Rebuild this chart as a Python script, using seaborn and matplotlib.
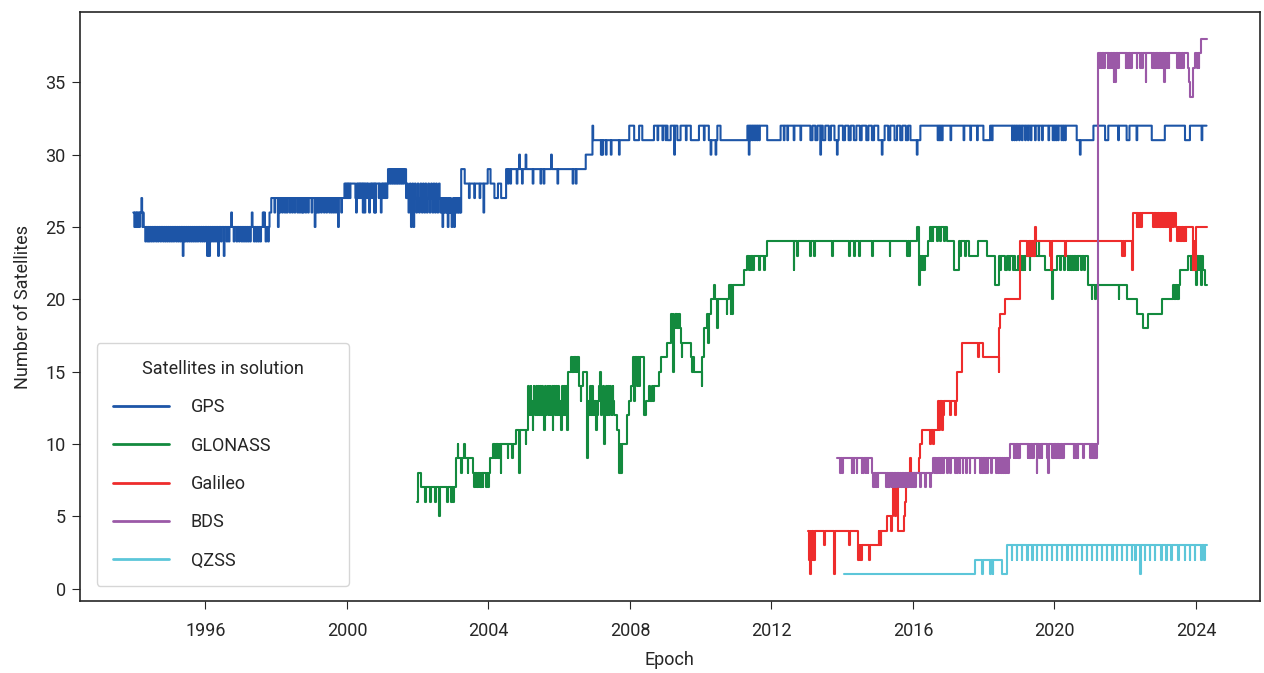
import datetime as dt
import numpy as np
import pandas as pd
import matplotlib
matplotlib.use('Agg')
import matplotlib.pyplot as plt
import matplotlib.dates as mdates
import seaborn as sns

# step change points (decimal year, satellites) and short excursions
END = 2024.30

gps_steps = [(1993.96, 26), (1994.25, 25), (1997.81, 26), (1997.86, 27), (1999.93, 28),
             (2001.16, 29), (2001.67, 27), (2002.78, 26), (2003.23, 29), (2003.33, 28),
             (2003.98, 29), (2004.06, 28), (2004.17, 27), (2004.27, 28), (2004.36, 27),
             (2004.50, 29), (2006.75, 30), (2006.94, 31), (2007.98, 32), (2008.12, 31),
             (2008.26, 32), (2008.35, 31), (2008.68, 32), (2009.06, 31), (2009.15, 32),
             (2009.34, 31), (2009.43, 32), (2009.72, 31), (2009.95, 32), (2010.23, 31),
             (2010.47, 32), (2010.56, 31), (2011.32, 32), (2011.88, 31), (2012.26, 32),
             (2013.10, 31), (2013.16, 32), (2013.24, 31), (2013.30, 32), (2013.45, 31),
             (2013.52, 32), (2013.62, 31), (2013.68, 32), (2013.78, 31), (2013.90, 32),
             (2014.02, 31), (2014.08, 32), (2014.18, 31), (2014.24, 32), (2014.33, 31),
             (2014.40, 32), (2014.50, 31), (2014.55, 32), (2014.68, 31), (2014.74, 32),
             (2014.84, 31), (2014.90, 32), (2015.02, 31), (2015.20, 32), (2015.30, 31),
             (2015.36, 32), (2015.48, 31), (2015.55, 32), (2015.64, 31), (2015.70, 32),
             (2015.80, 31), (2015.86, 32), (2015.93, 31), (2016.21, 32), (2017.99, 31),
             (2018.18, 32), (2020.63, 31), (2021.10, 32), (2021.43, 31), (2021.52, 32),
             (2022.04, 31), (2022.12, 32), (2022.75, 31), (2023.12, 32), (2023.69, 31),
             (2023.83, 32)]
gps_dips = [(1993.99, 25), (1994.04, 25), (1994.08, 25), (1994.13, 25), (1994.19, 27), (1994.22, 25),
            (1994.30, 24), (1994.36, 24), (1994.41, 24), (1994.47, 24), (1994.53, 24), (1994.60, 24),
            (1994.66, 24), (1994.73, 24), (1994.80, 24), (1994.86, 24), (1994.92, 24), (1994.98, 24),
            (1995.04, 24), (1995.10, 24), (1995.17, 24), (1995.23, 24), (1995.29, 24), (1995.36, 23),
            (1995.42, 24), (1995.48, 24), (1995.54, 24), (1995.60, 24), (1995.66, 24), (1995.72, 24),
            (1995.78, 24), (1995.85, 24), (1995.91, 24), (1995.97, 24), (1996.05, 23), (1996.11, 23),
            (1996.17, 24), (1996.23, 24), (1996.29, 24), (1996.36, 23), (1996.44, 24), (1996.52, 23),
            (1996.60, 24), (1996.66, 24), (1996.73, 26), (1996.80, 24), (1996.88, 24), (1996.95, 24),
            (1997.02, 24), (1997.08, 24), (1997.14, 24), (1997.20, 24), (1997.26, 24), (1997.31, 26),
            (1997.37, 24), (1997.43, 24), (1997.49, 24), (1997.55, 24), (1997.62, 26), (1997.66, 26),
            (1997.70, 24), (1997.77, 24),
            (1997.95, 26), (1998.05, 25), (1998.10, 26), (1998.17, 26), (1998.24, 26), (1998.30, 26),
            (1998.38, 26), (1998.45, 26), (1998.52, 26), (1998.60, 26), (1998.66, 26), (1998.72, 26),
            (1998.76, 26), (1998.83, 26), (1998.90, 26), (1999.00, 26), (1999.09, 25), (1999.15, 26),
            (1999.20, 26), (1999.27, 26), (1999.35, 26), (1999.42, 26), (1999.50, 26), (1999.56, 26),
            (1999.62, 26), (1999.68, 26), (1999.75, 25), (1999.84, 26),
            (1999.96, 27), (2000.00, 27), (2000.04, 27), (2000.08, 27), (2000.24, 27), (2000.26, 26),
            (2000.30, 27), (2000.34, 27), (2000.38, 27), (2000.42, 27), (2000.45, 26), (2000.50, 26),
            (2000.57, 27), (2000.61, 27), (2000.63, 26), (2000.69, 27), (2000.73, 27), (2000.77, 26),
            (2000.80, 26), (2000.90, 27), (2000.94, 27), (2000.96, 26), (2001.00, 27), (2001.04, 27),
            (2001.08, 27), (2001.12, 27),
            (2001.20, 28), (2001.25, 28), (2001.30, 28), (2001.35, 28), (2001.40, 28), (2001.45, 28),
            (2001.50, 28), (2001.55, 28), (2001.60, 28),
            (2001.70, 28), (2001.74, 26), (2001.78, 28), (2001.81, 25), (2001.85, 28), (2001.88, 25),
            (2001.92, 28), (2001.96, 26), (2002.00, 28), (2002.04, 26), (2002.08, 28), (2002.12, 26),
            (2002.15, 28), (2002.19, 26), (2002.22, 28), (2002.26, 26), (2002.30, 28), (2002.34, 26),
            (2002.38, 28), (2002.42, 26), (2002.45, 28), (2002.49, 26), (2002.52, 28), (2002.56, 26),
            (2002.60, 28), (2002.64, 26), (2002.70, 25), (2002.74, 26),
            (2002.82, 27), (2002.85, 25), (2002.88, 27), (2002.92, 27), (2002.96, 25), (2003.00, 27),
            (2003.03, 25), (2003.06, 27), (2003.10, 27), (2003.15, 27), (2003.20, 27),
            (2003.45, 27), (2003.60, 27), (2003.75, 27), (2003.86, 26),
            (2004.55, 28), (2004.62, 28), (2004.80, 28), (2004.87, 30), (2004.95, 28), (2005.05, 30),
            (2005.25, 28), (2005.47, 28), (2005.56, 28), (2005.77, 30), (2005.95, 28), (2006.38, 28),
            (2006.47, 28), (2006.94, 32), (2007.18, 30), (2007.22, 30), (2007.32, 30), (2007.46, 30),
            (2007.69, 30), (2008.78, 31), (2008.92, 31), (2009.01, 31), (2009.25, 30), (2009.58, 31),
            (2010.09, 31), (2010.28, 30), (2010.42, 30), (2011.36, 30), (2011.40, 31), (2011.45, 31),
            (2011.50, 31), (2011.55, 31), (2011.60, 31), (2011.65, 31), (2012.35, 31), (2012.45, 31),
            (2012.63, 31), (2012.82, 31), (2013.38, 30), (2013.85, 30), (2015.12, 30), (2016.11, 30),
            (2016.70, 31), (2016.74, 31), (2016.78, 31), (2016.82, 31), (2017.06, 31), (2017.43, 31),
            (2017.62, 31), (2017.81, 31), (2018.23, 31), (2018.80, 31), (2018.86, 31), (2018.92, 31),
            (2019.00, 31), (2019.08, 31), (2019.17, 31), (2019.25, 31), (2019.33, 31), (2019.45, 31),
            (2019.55, 31), (2019.65, 31), (2019.83, 31), (2019.95, 31), (2020.00, 31), (2020.05, 31),
            (2020.10, 31), (2020.20, 31), (2020.25, 31), (2020.30, 31), (2020.72, 30), (2021.80, 31),
            (2022.32, 31), (2024.16, 31)]

glonass_steps = [(2001.98, 6), (2002.00, 8), (2002.08, 7), (2003.08, 9), (2003.55, 8),
                 (2004.05, 9), (2004.12, 10), (2004.78, 11), (2005.11, 13), (2006.26, 15),
                 (2006.33, 16), (2006.57, 14), (2006.66, 15), (2006.80, 13), (2007.55, 12),
                 (2007.63, 11), (2007.69, 10), (2007.93, 12), (2007.97, 13), (2008.02, 14),
                 (2008.09, 16), (2008.40, 12), (2008.45, 13), (2008.68, 14), (2008.82, 15),
                 (2008.87, 16), (2009.06, 17), (2009.15, 18), (2009.44, 17), (2009.72, 16),
                 (2009.81, 15), (2010.05, 16), (2010.09, 18), (2010.19, 19), (2010.28, 20),
                 (2010.80, 21), (2011.22, 22), (2011.32, 23), (2011.88, 24), (2016.11, 25),
                 (2016.17, 21), (2016.21, 23), (2016.44, 24), (2016.58, 25), (2016.96, 24),
                 (2017.15, 22), (2017.29, 24), (2017.57, 23), (2017.85, 24), (2018.09, 23),
                 (2018.33, 21), (2018.42, 23), (2018.61, 22), (2018.66, 23), (2018.89, 22),
                 (2018.98, 23), (2019.74, 22), (2020.07, 23), (2020.96, 21), (2022.04, 20),
                 (2022.32, 19), (2022.51, 18), (2022.65, 19), (2023.03, 20), (2023.36, 21),
                 (2023.55, 22), (2023.78, 23), (2024.21, 22), (2024.26, 21)]
glonass_dips = [(2002.21, 6), (2002.36, 6), (2002.50, 6), (2002.61, 5), (2002.83, 6), (2002.94, 6),
                (2003.00, 6), (2003.13, 10), (2003.22, 8), (2003.32, 10), (2003.41, 8),
                (2003.60, 7), (2003.64, 7), (2003.68, 7), (2003.72, 7), (2003.76, 7), (2003.80, 7),
                (2003.84, 7), (2003.93, 7), (2004.00, 7), (2004.15, 9), (2004.19, 9), (2004.23, 9),
                (2004.27, 9), (2004.31, 9), (2004.35, 8), (2004.54, 9), (2004.68, 9), (2004.87, 8),
                (2005.05, 10),
                (2005.13, 14), (2005.16, 12), (2005.19, 14), (2005.22, 12), (2005.25, 11), (2005.28, 14),
                (2005.31, 12), (2005.34, 14), (2005.37, 12), (2005.40, 14), (2005.43, 12), (2005.46, 14),
                (2005.49, 12), (2005.52, 14), (2005.55, 12), (2005.58, 11), (2005.61, 14), (2005.64, 12),
                (2005.67, 14), (2005.70, 12), (2005.73, 14), (2005.76, 12), (2005.79, 14), (2005.81, 11),
                (2005.85, 14), (2005.88, 12), (2005.91, 14), (2005.94, 12), (2005.97, 14), (2006.00, 12),
                (2006.05, 11), (2006.08, 14), (2006.11, 12), (2006.14, 14), (2006.17, 12), (2006.20, 14),
                (2006.23, 11),
                (2006.36, 15), (2006.40, 15), (2006.44, 15), (2006.48, 15), (2006.52, 15), (2006.61, 13),
                (2006.78, 9), (2006.84, 12), (2006.87, 14), (2006.90, 12), (2006.93, 14), (2006.96, 12),
                (2007.00, 12), (2007.04, 11), (2007.08, 12), (2007.12, 14), (2007.15, 15), (2007.19, 12),
                (2007.24, 14), (2007.27, 10), (2007.30, 12), (2007.33, 14), (2007.36, 12), (2007.39, 14),
                (2007.42, 12), (2007.45, 14), (2007.48, 12), (2007.51, 14),
                (2007.70, 8), (2007.73, 8), (2007.76, 8), (2008.12, 13), (2008.20, 14), (2008.26, 14),
                (2008.55, 14), (2008.62, 14), (2009.17, 19), (2009.21, 19), (2009.23, 15), (2009.27, 19),
                (2009.31, 19), (2009.35, 19), (2009.39, 19), (2009.46, 16), (2009.75, 15), (2010.03, 14),
                (2010.21, 17), (2010.38, 21), (2010.47, 18), (2010.73, 19), (2010.85, 19), (2010.89, 19),
                (2011.36, 22), (2011.40, 22), (2011.44, 22), (2011.48, 22), (2011.65, 22), (2011.79, 22),
                (2012.63, 22), (2012.73, 23), (2013.10, 23), (2013.20, 23), (2013.72, 23), (2014.19, 23),
                (2014.33, 23), (2014.47, 23), (2014.84, 23), (2015.34, 23), (2015.83, 23), (2015.90, 23),
                (2016.24, 22), (2016.28, 22), (2016.32, 22), (2016.49, 25), (2016.55, 25), (2016.68, 24),
                (2016.77, 24), (2016.88, 24), (2017.34, 23), (2017.48, 23), (2018.47, 22), (2018.71, 22),
                (2018.83, 22), (2019.00, 22), (2019.04, 22), (2019.08, 22), (2019.12, 22), (2019.16, 22),
                (2019.30, 22), (2019.45, 24), (2019.55, 24), (2019.93, 20), (2020.16, 22), (2020.27, 22),
                (2020.37, 22), (2020.42, 22), (2020.47, 22), (2020.52, 22), (2020.57, 22), (2020.62, 22),
                (2020.66, 22), (2020.75, 22), (2020.85, 22), (2021.05, 20), (2021.15, 20), (2021.81, 20),
                (2023.38, 20), (2023.42, 20), (2023.46, 20), (2023.50, 20), (2023.85, 22), (2023.90, 22),
                (2023.95, 22), (2024.00, 21), (2024.05, 22), (2024.10, 22), (2024.15, 21)]

galileo_steps = [(2013.03, 4), (2014.44, 3), (2014.56, 3), (2015.03, 4), (2015.27, 5), (2015.44, 7),
                 (2015.48, 5), (2015.52, 7), (2015.57, 4), (2015.74, 5), (2015.78, 6), (2015.81, 7),
                 (2015.85, 8), (2016.16, 9), (2016.20, 10), (2016.26, 11), (2016.72, 13), (2017.24, 15),
                 (2017.38, 17), (2017.99, 16), (2018.46, 19), (2018.61, 20), (2019.03, 24),
                 (2022.23, 26), (2023.45, 25), (2023.92, 22), (2024.01, 25)]
galileo_dips = [(2013.06, 2), (2013.09, 1), (2013.13, 2), (2013.17, 2), (2013.21, 2), (2013.48, 3),
                (2013.77, 1), (2014.20, 3), (2014.46, 2), (2014.50, 2), (2014.53, 2), (2014.77, 2),
                (2015.05, 3), (2015.09, 3), (2015.38, 4), (2015.93, 9), (2016.49, 10), (2016.58, 10),
                (2016.74, 11), (2016.78, 12), (2016.82, 11), (2016.86, 12), (2017.05, 12), (2017.19, 12),
                (2017.85, 16), (2018.42, 15), (2018.44, 18), (2019.22, 23), (2019.26, 23), (2019.30, 23),
                (2019.34, 23), (2019.38, 23), (2019.42, 23), (2019.45, 25), (2019.88, 23), (2019.91, 22),
                (2020.30, 23), (2021.92, 23), (2021.97, 23), (2022.20, 22), (2022.32, 25), (2022.36, 25),
                (2022.40, 25), (2022.44, 25), (2022.79, 25), (2022.83, 25), (2022.87, 25), (2022.91, 25),
                (2022.95, 25), (2022.99, 25), (2023.03, 25), (2023.07, 25), (2023.12, 25), (2023.16, 25),
                (2023.20, 25), (2023.27, 24), (2023.31, 25), (2023.36, 25), (2023.47, 24), (2023.51, 24),
                (2023.55, 24), (2023.59, 24), (2023.63, 24), (2023.67, 24), (2023.71, 24), (2023.96, 24)]

bds_steps = [(2013.86, 9), (2014.84, 8), (2016.58, 9), (2018.75, 10), (2021.24, 37),
             (2023.78, 36), (2023.81, 35), (2023.83, 34), (2023.92, 36), (2023.97, 37), (2024.13, 38)]
bds_dips = [(2013.95, 8), (2013.99, 8), (2014.27, 8), (2014.32, 8), (2014.41, 8), (2014.55, 8),
            (2014.60, 8), (2014.66, 8), (2014.72, 8),
            (2014.88, 7), (2014.92, 7), (2014.96, 7), (2015.00, 7), (2015.25, 7), (2015.29, 7),
            (2015.33, 7), (2015.40, 7), (2015.44, 7), (2015.48, 7), (2015.52, 7), (2015.60, 7),
            (2015.67, 7), (2015.71, 7), (2015.75, 7), (2015.79, 7), (2015.83, 7), (2015.87, 7),
            (2015.91, 7), (2015.95, 7), (2016.00, 7), (2016.07, 7), (2016.20, 7), (2016.34, 7),
            (2016.48, 7),
            (2016.61, 8), (2016.65, 8), (2016.69, 8), (2016.73, 8), (2016.77, 8), (2016.81, 8),
            (2016.85, 8), (2016.96, 8), (2017.05, 8), (2017.20, 8), (2017.25, 8), (2017.32, 8),
            (2017.40, 8), (2017.50, 8), (2017.60, 8), (2017.74, 8), (2017.90, 8), (2017.95, 8),
            (2018.00, 8), (2018.05, 8), (2018.10, 8), (2018.20, 8), (2018.35, 8), (2018.40, 8),
            (2018.45, 8), (2018.50, 8), (2018.55, 8), (2018.60, 8), (2018.65, 8), (2018.70, 8),
            (2018.85, 9), (2018.89, 9), (2018.93, 9), (2018.97, 9), (2019.01, 9), (2019.24, 9),
            (2019.28, 9), (2019.32, 9), (2019.36, 9), (2019.40, 9), (2019.50, 8), (2019.56, 9),
            (2019.60, 9), (2019.64, 9), (2019.79, 9), (2019.83, 8), (2019.93, 9), (2019.97, 9),
            (2020.01, 9), (2020.05, 9), (2020.09, 9), (2020.13, 9), (2020.17, 9), (2020.21, 9),
            (2020.25, 9), (2020.54, 9), (2020.58, 9), (2020.62, 9), (2020.66, 9), (2020.82, 9),
            (2021.01, 9), (2021.05, 9), (2021.09, 9), (2021.13, 9), (2021.17, 9),
            (2021.28, 36), (2021.32, 36), (2021.36, 36), (2021.40, 36), (2021.50, 36), (2021.54, 36),
            (2021.58, 36), (2021.62, 36), (2021.67, 35), (2021.72, 35), (2021.76, 36), (2021.80, 36),
            (2022.01, 36), (2022.05, 36), (2022.09, 36), (2022.13, 36), (2022.17, 36), (2022.32, 36),
            (2022.43, 36), (2022.47, 36), (2022.58, 35), (2022.77, 36), (2022.81, 36), (2022.85, 36),
            (2022.89, 36), (2022.93, 36), (2022.97, 36), (2023.01, 36), (2023.05, 36), (2023.10, 35),
            (2023.15, 36), (2023.19, 36), (2023.23, 36), (2023.47, 36), (2023.51, 36), (2023.55, 36),
            (2023.59, 36), (2023.63, 36), (2024.04, 36), (2024.08, 36)]

qzss_steps = [(2014.04, 1), (2017.76, 2), (2018.51, 1), (2018.65, 3)]
qzss_dips = [(2017.95, 1), (2018.18, 1), (2018.25, 1), (2018.79, 2), (2018.93, 2), (2019.07, 2),
             (2019.22, 2), (2019.36, 2), (2019.50, 2), (2019.64, 2), (2019.78, 2), (2019.92, 2),
             (2020.06, 2), (2020.20, 2), (2020.35, 2), (2020.49, 2), (2020.63, 2), (2020.77, 2),
             (2020.91, 2), (2021.05, 2), (2021.19, 2), (2021.33, 2), (2021.47, 2), (2021.62, 2),
             (2021.76, 2), (2021.90, 2), (2022.04, 2), (2022.18, 2), (2022.28, 2), (2022.42, 1),
             (2022.55, 2), (2022.69, 2), (2022.83, 2), (2023.02, 2), (2023.16, 2), (2023.30, 2),
             (2023.49, 2), (2023.68, 2), (2023.82, 2), (2023.96, 2), (2024.15, 2), (2024.24, 2)]

systems = ['GPS', 'GLONASS', 'Galileo', 'BDS', 'QZSS']
colors = ['#1d55a7', '#138a3e', '#ee2c2c', '#9b59a7', '#5cc6d9']


def build(steps, dips, end=END, w=0.02):
    steps = sorted(steps)
    bt = np.array([s[0] for s in steps])
    bv = np.array([s[1] for s in steps])
    dt_ = np.array([d[0] for d in dips])
    times = np.unique(np.round(np.concatenate([bt, dt_, dt_ + w, [end]]), 4))
    times = times[times <= end]
    vals = bv[np.searchsorted(bt, times, side='right') - 1].astype(float)
    for t, v in dips:
        vals[(times >= t - 1e-6) & (times < t + w - 1e-6)] = v
    return times, vals


def to_date(y):
    yr = int(np.floor(y))
    return dt.datetime(yr, 1, 1) + dt.timedelta(days=(y - yr) * 365.25)


sns.set_style('ticks')
plt.rcParams['font.family'] = ['Roboto', 'DejaVu Sans']

fig, ax = plt.subplots(figsize=(12.64, 6.73), dpi=100)
fig.subplots_adjust(left=0.063, right=0.997, top=0.982, bottom=0.107)

all_data = [(gps_steps, gps_dips), (glonass_steps, glonass_dips), (galileo_steps, galileo_dips),
            (bds_steps, bds_dips), (qzss_steps, qzss_dips)]
for name, col, (st, dp) in zip(systems, colors, all_data):
    t, v = build(st, dp)
    df = pd.DataFrame({'Epoch': [to_date(x) for x in t], 'n': v})
    sns.lineplot(data=df, x='Epoch', y='n', ax=ax, color=col, label=name,
                 drawstyle='steps-post', estimator=None, linewidth=1.5)

ax.xaxis.set_major_locator(mdates.YearLocator(4))
ax.xaxis.set_major_formatter(mdates.DateFormatter('%Y'))
ax.set_xlabel('Epoch', fontsize=13, labelpad=8)
ax.set_ylabel('Number of Satellites', fontsize=13, labelpad=10)
ax.tick_params(axis='x', labelsize=13, length=6, pad=9)
ax.tick_params(axis='y', labelsize=13, length=6, pad=4)
for s in ax.spines.values():
    s.set_linewidth(1.2)

leg = ax.legend(title='Satellites in solution', loc='lower left', mode='expand',
                bbox_to_anchor=(0.0144, 0.0255, 0.2136, 0.4), borderaxespad=0,
                fontsize=13, title_fontsize=13, labelspacing=1.13, handlelength=3.1,
                handletextpad=1.2, borderpad=0.9)
for line in leg.get_lines():
    line.set_linewidth(2)

fig.savefig('out.png', dpi=100)
